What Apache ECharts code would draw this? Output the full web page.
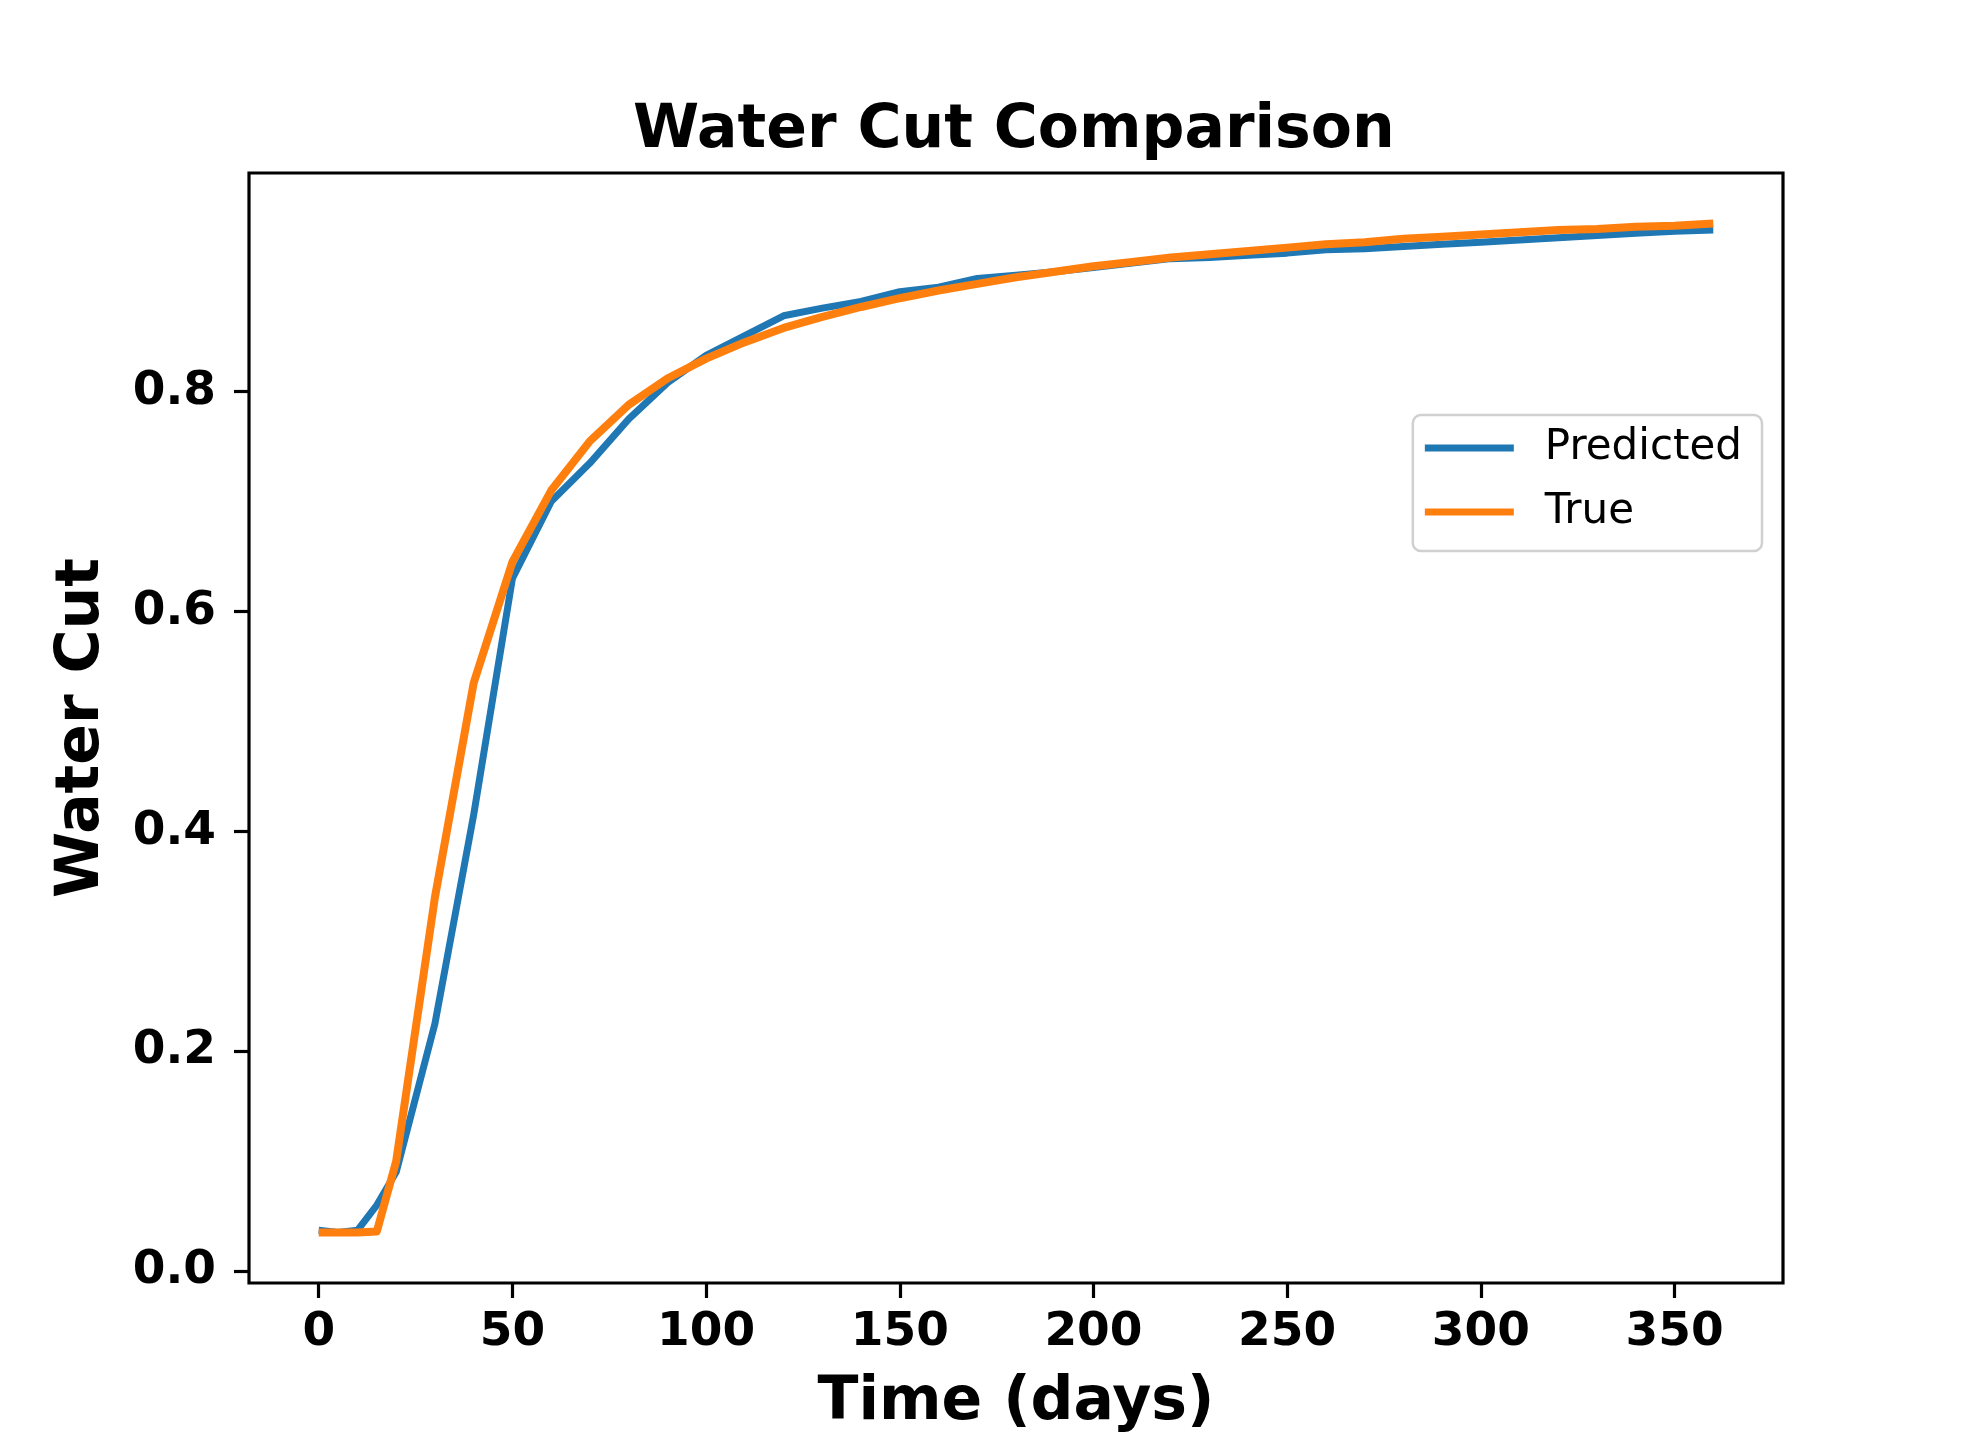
<!DOCTYPE html>
<html>
<head>
<meta charset="utf-8">
<title>Water Cut Comparison</title>
<script src="https://cdn.jsdelivr.net/npm/echarts@6/dist/echarts.min.js"></script>
<style>
    html, body { margin: 0; padding: 0; background: #fff; }
    #chart { width: 1980px; height: 1440px; }
</style>
</head>
<body>
<div id="chart"></div>
<script>
// time samples (days)
const days = [0, 5, 10, 15, 20, 30, 40, 50, 60, 70, 80, 90, 100, 110, 120, 130, 140, 150, 160, 170,
    180, 190, 200, 210, 220, 230, 240, 250, 260, 270, 280, 290, 300, 310, 320, 330, 340, 350, 360];

// predicted water cut
const predicted = [0.037, 0.035, 0.037, 0.060, 0.090, 0.225, 0.415, 0.630, 0.700, 0.735, 0.775, 0.808, 0.833,
    0.851, 0.869, 0.876, 0.882, 0.891, 0.895, 0.903, 0.906, 0.909, 0.913, 0.917, 0.921, 0.922, 0.924,
    0.926, 0.929, 0.930, 0.932, 0.934, 0.936, 0.938, 0.940, 0.942, 0.944, 0.946, 0.947];

// true water cut
const actual = [0.035, 0.035, 0.035, 0.036, 0.100, 0.340, 0.535, 0.645, 0.710, 0.755, 0.788, 0.812, 0.830,
    0.845, 0.858, 0.868, 0.877, 0.885, 0.892, 0.898, 0.904, 0.909, 0.914, 0.918, 0.922, 0.925, 0.928,
    0.931, 0.934, 0.936, 0.939, 0.941, 0.943, 0.945, 0.947, 0.948, 0.950, 0.951, 0.953];

// tick labels
const xTicks = [0, 50, 100, 150, 200, 250, 300, 350];
const yTicks = [0, 0.2, 0.4, 0.6, 0.8];

const FONT = 'DejaVu Sans';

function pairs(xs, ys) {
    return xs.map((x, i) => [x, ys[i]]);
}

const chart = echarts.init(document.getElementById('chart'));

chart.setOption({
    animation: false,
    backgroundColor: '#ffffff',
    title: {
        text: 'Water Cut Comparison',
        left: 628,
        top: 96,
        textStyle: { fontFamily: FONT, fontSize: 60, fontWeight: 'bold', color: '#000' }
    },
    legend: {
        orient: 'vertical',
        right: 218,
        top: 415,
        padding: [12, 20, 18, 12],
        itemGap: 22,
        itemWidth: 89,
        itemHeight: 7,
        icon: 'rect',
        borderColor: '#d0d0d0',
        borderWidth: 2.5,
        borderRadius: 8,
        backgroundColor: '#fff',
        textStyle: { fontFamily: FONT, fontSize: 42, color: '#000', padding: [0, 0, 0, 26] },
        data: ['Predicted', 'True']
    },
    grid: {
        left: 249,
        right: 197,
        top: 173,
        bottom: 157,
        show: true,
        borderColor: '#000',
        borderWidth: 3.2,
        backgroundColor: 'transparent'
    },
    xAxis: {
        type: 'value',
        min: -18,
        max: 378,
        name: 'Time (days)',
        nameLocation: 'middle',
        nameGap: 90,
        nameTextStyle: { fontFamily: FONT, fontSize: 60, fontWeight: 'bold', color: '#000' },
        axisLine: { show: false, onZero: false },
        axisTick: { show: true, length: 15, lineStyle: { color: '#000', width: 3.2 }, customValues: xTicks },
        axisLabel: {
            fontFamily: FONT, fontSize: 47, fontWeight: 'bold', color: '#000', margin: 26,
            customValues: xTicks
        },
        splitLine: { show: false }
    },
    yAxis: {
        type: 'value',
        min: -0.0109,
        max: 0.9989,
        name: 'Water Cut',
        nameLocation: 'middle',
        nameGap: 137,
        nameTextStyle: { fontFamily: FONT, fontSize: 60, fontWeight: 'bold', color: '#000' },
        axisLine: { show: false, onZero: false },
        axisTick: { show: true, length: 15, lineStyle: { color: '#000', width: 3.2 }, customValues: yTicks },
        axisLabel: {
            fontFamily: FONT, fontSize: 47, fontWeight: 'bold', color: '#000', margin: 33,
            customValues: yTicks,
            formatter: v => v.toFixed(1)
        },
        splitLine: { show: false }
    },
    series: [
        {
            name: 'Predicted',
            type: 'line',
            data: pairs(days, predicted),
            showSymbol: false,
            symbol: 'none',
            color: '#1f77b4',
            lineStyle: { width: 7, color: '#1f77b4', join: 'round' },
            z: 2
        },
        {
            name: 'True',
            type: 'line',
            data: pairs(days, actual),
            showSymbol: false,
            symbol: 'none',
            color: '#ff7f0e',
            lineStyle: { width: 8, color: '#ff7f0e', join: 'round' },
            z: 3
        }
    ]
});
</script>
</body>
</html>
